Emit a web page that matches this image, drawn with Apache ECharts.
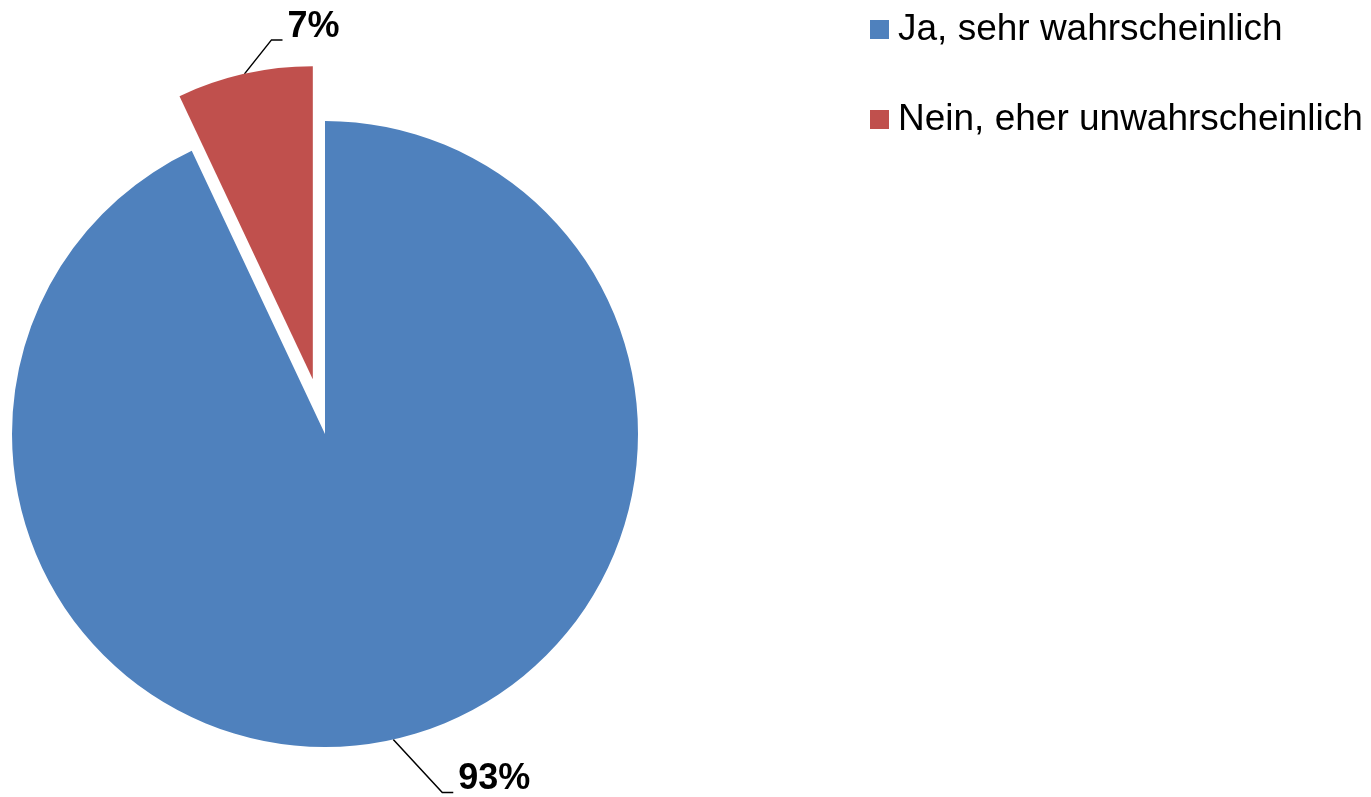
<!DOCTYPE html>
<html lang="de" style="height: 100%">
<head>
  <meta charset="utf-8">
  <title>Pie</title>
</head>
<body style="height: 100%; margin: 0; background: #fff">
  <div id="chart_div" style="width: 1371px; height: 797px;"></div>

  <script type="text/javascript" src="https://cdn.jsdelivr.net/npm/echarts@6/dist/echarts.min.js"></script>
  <script type="text/javascript">
    var categories = ['Ja, sehr wahrscheinlich', 'Nein, eher unwahrscheinlich'];
    var values = [93, 7];
    var colors = ['#4F81BD', '#C0504D'];
    var exploded = [false, true];

    // leader line bends (dx, dy of first segment) per slice
    var bends = [[49, 53], [27, -34]];

    var pieCenter = [325, 434];
    var pieRadius = 313;
    var explodeOffset = 56;
    var font = 'Liberation Sans, Arial, sans-serif';

    var myChart = echarts.init(document.getElementById('chart_div'), null, { renderer: 'canvas' });

    var total = values.reduce(function (a, b) { return a + b; }, 0);

    // shift of an exploded slice along its mid angle (clockwise from 12 o'clock)
    function sliceShift(i) {
      if (!exploded[i]) return [0, 0];
      var before = 0;
      for (var j = 0; j < i; j++) before += values[j];
      var mid = (before + values[i] / 2) / total * 2 * Math.PI;
      return [Math.sin(mid) * explodeOffset, -Math.cos(mid) * explodeOffset];
    }

    // one pie series per slice so an exploded slice keeps a normal label layout
    var series = categories.map(function (name, i) {
      var shift = sliceShift(i);
      var data = values.map(function (v, k) {
        if (k === i) {
          return { name: name, value: v, itemStyle: { color: colors[k] } };
        }
        return {
          name: '_hidden' + k,
          value: v,
          itemStyle: { color: 'rgba(0,0,0,0)' },
          label: { show: false },
          labelLine: { show: false }
        };
      });
      return {
        type: 'pie',
        center: [pieCenter[0] + shift[0], pieCenter[1] + shift[1]],
        radius: pieRadius,
        startAngle: 90,
        clockwise: true,
        silent: true,
        avoidLabelOverlap: false,
        emphasis: { disabled: true },
        itemStyle: { borderWidth: 0 },
        label: {
          show: true,
          position: 'outside',
          formatter: '{c}%',
          fontSize: 36,
          fontWeight: 'bold',
          color: '#000',
          fontFamily: font
        },
        labelLine: {
          show: true,
          length: 20,
          length2: 10,
          lineStyle: { color: '#000', width: 1.5 }
        },
        labelLayout: function (params) {
          if (!params.labelLinePoints) return {};
          var p0 = params.labelLinePoints[0];
          var d = bends[i];
          var p1 = [p0[0] + d[0], p0[1] + d[1]];
          var p2 = [p1[0] + 11, p1[1]];
          return {
            x: p2[0] + 5,
            y: p2[1] - 13,
            align: 'left',
            verticalAlign: 'middle',
            labelLinePoints: [p0, p1, p2]
          };
        },
        data: data
      };
    });

    var option = {
      animation: false,
      backgroundColor: '#fff',
      textStyle: { fontFamily: font },
      legend: {
        orient: 'vertical',
        left: 865,
        top: 6,
        itemWidth: 19,
        itemHeight: 19,
        itemGap: 53,
        icon: 'rect',
        selectedMode: false,
        data: categories,
        textStyle: { fontSize: 37, color: '#000', fontFamily: font, padding: [0, 0, 0, 4] }
      },
      series: series
    };

    myChart.setOption(option);
    window.addEventListener('resize', myChart.resize);
  </script>
</body>
</html>
